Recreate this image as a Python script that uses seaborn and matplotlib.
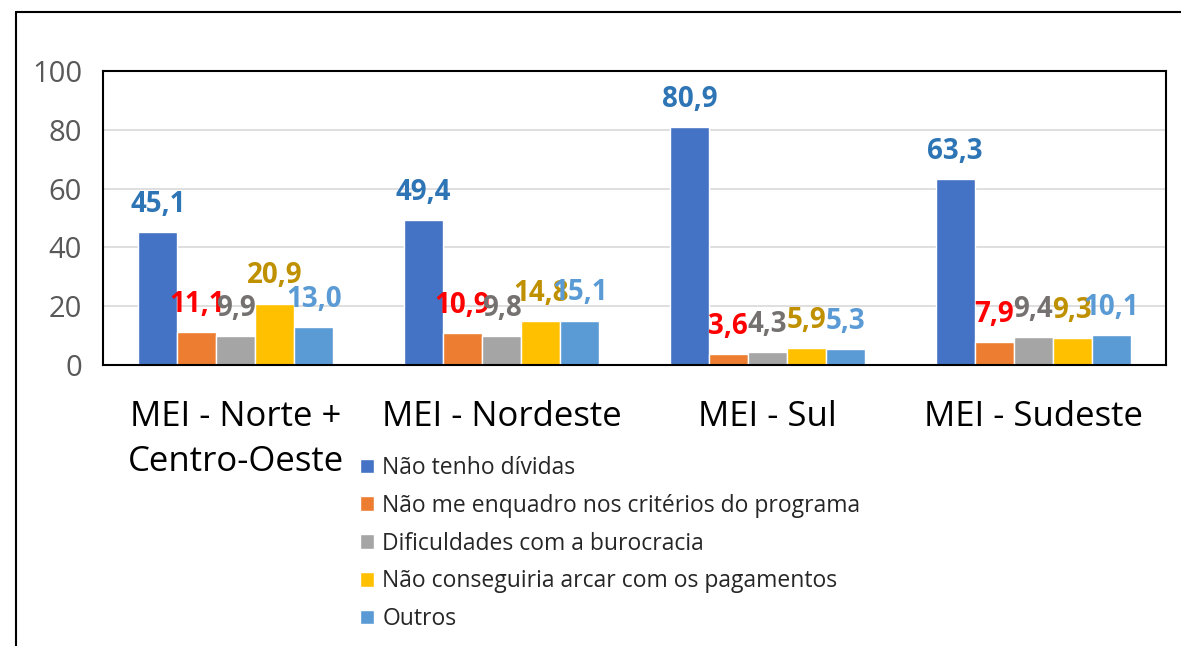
import pandas as pd
import matplotlib.pyplot as plt
import seaborn as sns
from matplotlib.lines import Line2D

regioes = ['MEI - Norte +\nCentro-Oeste', 'MEI - Nordeste', 'MEI - Sul', 'MEI - Sudeste']
motivos = [
    'Não tenho dívidas',
    'Não me enquadro nos critérios do programa',
    'Dificuldades com a burocracia',
    'Não conseguiria arcar com os pagamentos',
    'Outros',
]
nao_tenho_dividas = [45.1, 49.4, 80.9, 63.3]
nao_me_enquadro = [11.1, 10.9, 3.6, 7.9]
burocracia = [9.9, 9.8, 4.3, 9.4]
nao_conseguiria_pagar = [20.9, 14.8, 5.9, 9.3]
outros = [13.0, 15.1, 5.3, 10.1]

bar_colors = ['#4472C4', '#ED7D31', '#A5A5A5', '#FFC000', '#5B9BD5']
label_colors = ['#2E75B6', '#FF0000', '#767171', '#BF9000', '#5B9BD5']

series = [nao_tenho_dividas, nao_me_enquadro, burocracia, nao_conseguiria_pagar, outros]
rows = []
for motivo, vals in zip(motivos, series):
    for regiao, v in zip(regioes, vals):
        rows.append({'regiao': regiao, 'motivo': motivo, 'valor': v})
df = pd.DataFrame(rows)

sns.set_theme(style='white')
plt.rcParams['font.family'] = ['Open Sans', 'DejaVu Sans']

fig = plt.figure(figsize=(11.81, 6.46), dpi=100)
ax = fig.add_axes([103 / 1181, 1 - 365 / 646, (1166 - 103) / 1181, (365 - 71) / 646])

sns.barplot(data=df, x='regiao', y='valor', hue='motivo', order=regioes,
            hue_order=motivos, palette=bar_colors, width=0.734, gap=0,
            saturation=1, ax=ax, legend=True)

# value labels
for container, cor in zip(ax.containers, label_colors):
    for bar in container:
        h = bar.get_height()
        ax.annotate(f'{h:.1f}'.replace('.', ','),
                    (bar.get_x() + bar.get_width() / 2, h),
                    xytext=(0, 14.5), textcoords='offset points',
                    ha='center', va='baseline', fontsize=20,
                    fontweight='bold', color=cor)

ax.set_ylim(0, 100)
ax.set_yticks([0, 20, 40, 60, 80, 100])
ax.yaxis.grid(True, color='#D9D9D9', linewidth=1.2)
ax.set_axisbelow(True)
ax.set_xlabel('')
ax.set_ylabel('')
ax.tick_params(axis='y', labelsize=21, labelcolor='#595959', length=0, pad=15)
ax.tick_params(axis='x', labelsize=25, labelcolor='black', length=0, pad=25)
for lbl in ax.get_xticklabels():
    lbl.set_linespacing(1.42)
for s in ax.spines.values():
    s.set_visible(True)
    s.set_color('black')
    s.set_linewidth(1.5)

handles, labels = ax.get_legend_handles_labels()
ax.legend(handles, labels, loc='upper left',
          bbox_to_anchor=(360 / 1181, 1 - 456 / 646), bbox_transform=fig.transFigure,
          frameon=False, fontsize=16.5, handlelength=0.62, handleheight=0.62,
          handletextpad=0.35, labelspacing=0.6, borderaxespad=0, borderpad=0)

# outer frame (clipped at right and bottom)
fig.add_artist(Line2D([16 / 1181, 16 / 1181], [0, 1 - 12 / 646], transform=fig.transFigure,
                      color='black', linewidth=1.5))
fig.add_artist(Line2D([16 / 1181, 1], [1 - 12 / 646, 1 - 12 / 646], transform=fig.transFigure,
                      color='black', linewidth=1.5))

fig.savefig('out.png', dpi=100, facecolor='white')
